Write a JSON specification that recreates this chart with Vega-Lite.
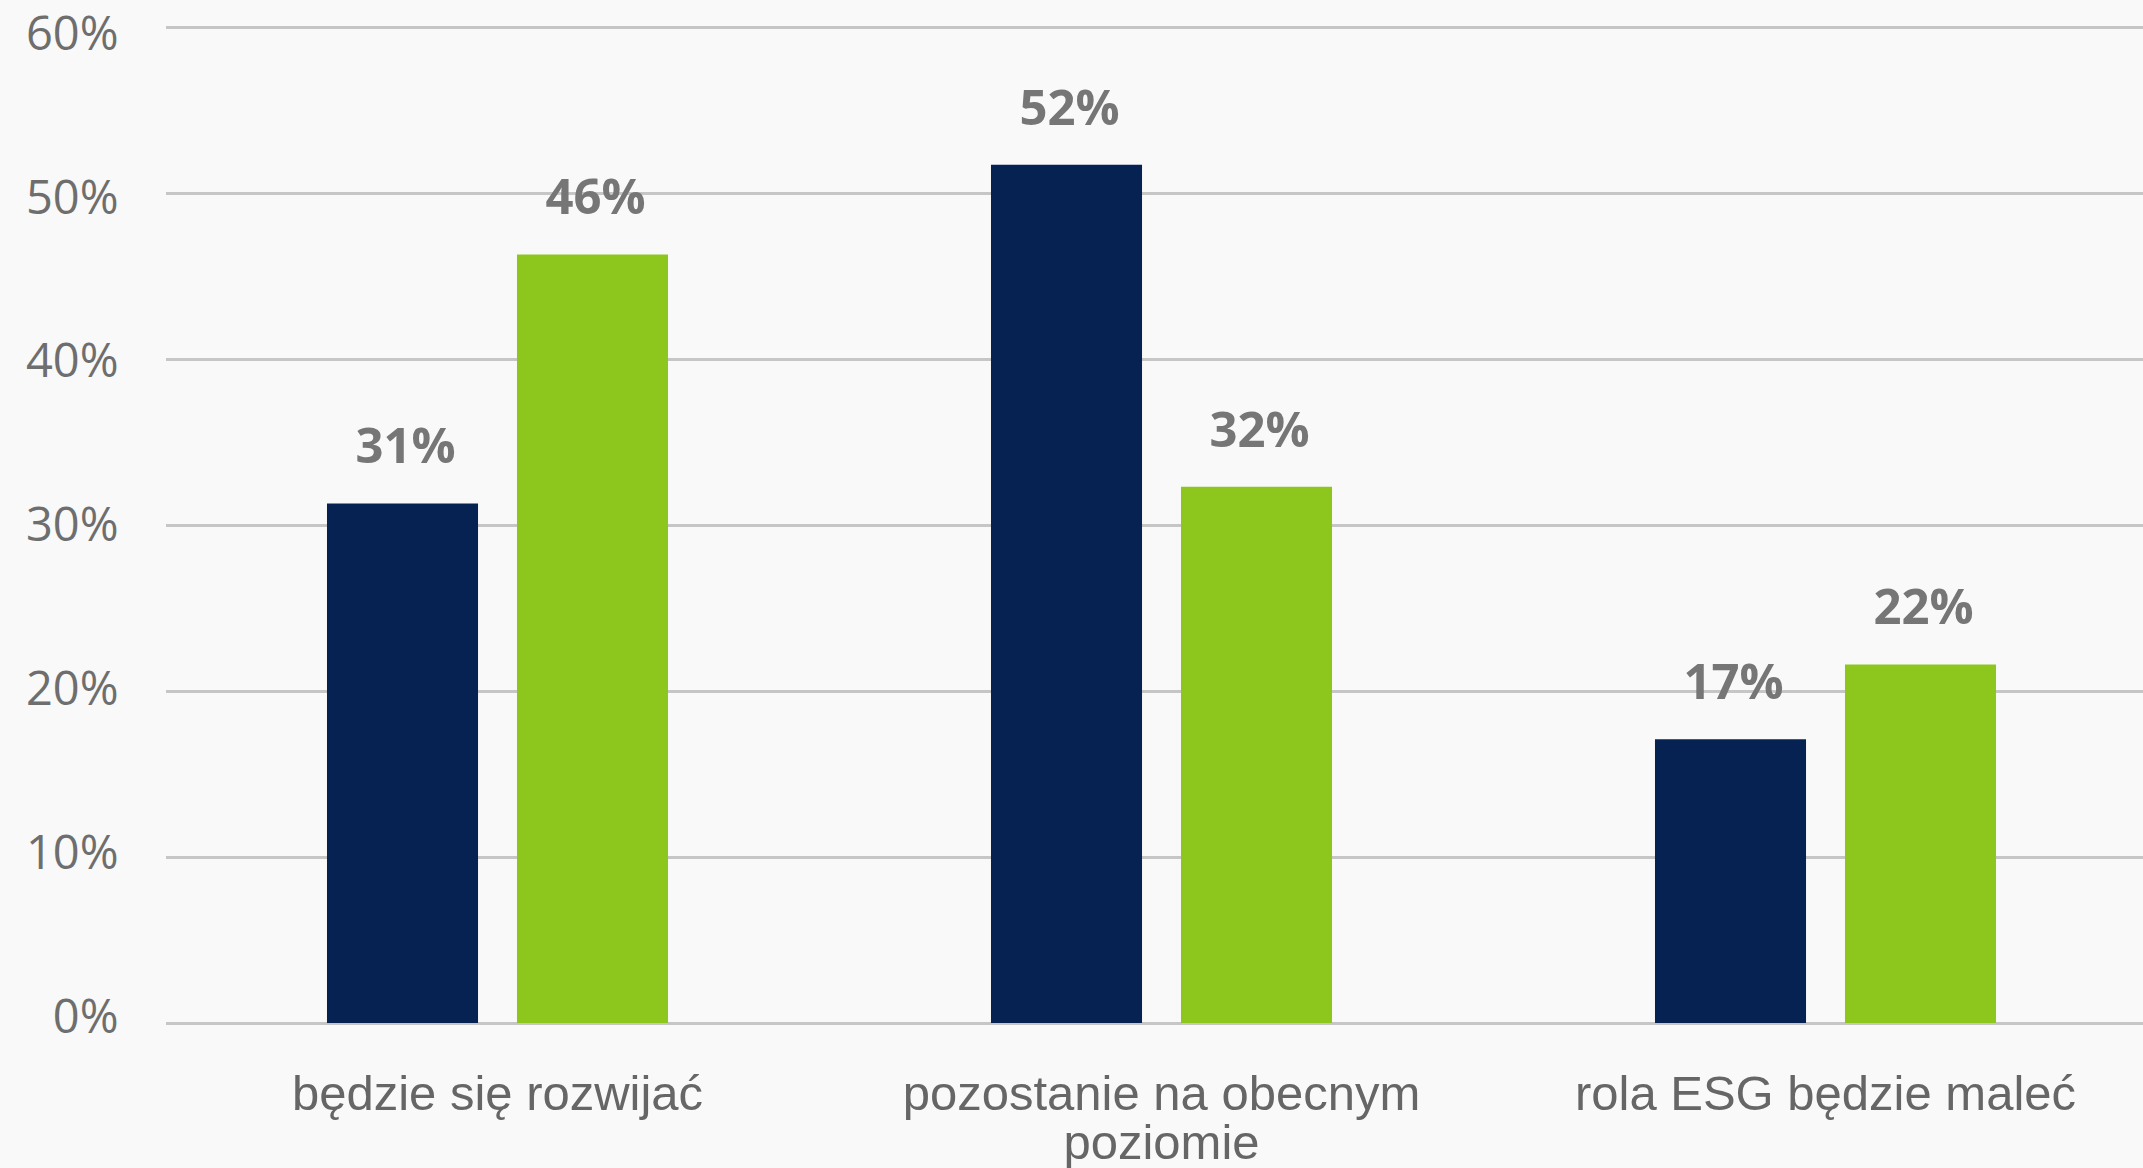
{
  "$schema": "https://vega.github.io/schema/vega-lite/v6.json",
  "autosize": {"type": "none"},
  "width": 1979,
  "height": 996,
  "padding": {"left": 164, "top": 27, "right": 0, "bottom": 145},
  "background": "#f9f9f9",
  "config": {"view": {"stroke": null}},
  "data": {
    "values": [
      {"kategoria": "będzie się rozwijać", "seria": "Seria 1", "wartosc": 0.313},
      {"kategoria": "będzie się rozwijać", "seria": "Seria 2", "wartosc": 0.463},
      {"kategoria": "pozostanie na obecnym poziomie", "seria": "Seria 1", "wartosc": 0.517},
      {"kategoria": "pozostanie na obecnym poziomie", "seria": "Seria 2", "wartosc": 0.323},
      {"kategoria": "rola ESG będzie maleć", "seria": "Seria 1", "wartosc": 0.171},
      {"kategoria": "rola ESG będzie maleć", "seria": "Seria 2", "wartosc": 0.216}
    ]
  },
  "encoding": {
    "x": {
      "field": "kategoria",
      "type": "nominal",
      "sort": null,
      "scale": {"range": [1.5, 1993.5], "paddingInner": 0, "paddingOuter": 0},
      "axis": {
        "title": null,
        "domain": false,
        "ticks": false,
        "tickSize": 0,
        "labelAngle": 0,
        "labelFont": "Liberation Sans",
        "labelFontSize": 49,
        "labelColor": "#666666",
        "labelPadding": 47,
        "labelBaseline": "top",
        "labelLineHeight": 49,
        "labelLimit": 0,
        "labelExpr": "datum.label == 'pozostanie na obecnym poziomie' ? ['pozostanie na obecnym', 'poziomie'] : datum.label"
      }
    },
    "xOffset": {
      "field": "seria",
      "type": "nominal",
      "scale": {"paddingInner": 0.205, "paddingOuter": 0.85}
    },
    "y": {
      "field": "wartosc",
      "type": "quantitative",
      "scale": {"domain": [0, 0.6], "nice": false},
      "axis": {
        "title": null,
        "values": [0, 0.1, 0.2, 0.3, 0.4, 0.5, 0.6],
        "format": ".0%",
        "domain": false,
        "ticks": false,
        "tickSize": 0,
        "grid": true,
        "gridColor": "#c6c6c6",
        "gridWidth": 3,
        "labelFont": "Open Sans",
        "labelFontSize": 47,
        "labelColor": "#6e6e6e",
        "labelPadding": 46,
        "labelOffset": {"expr": "-5 + datum.value * 22"}
      }
    }
  },
  "layer": [
    {
      "mark": {"type": "bar"},
      "encoding": {
        "color": {
          "field": "seria",
          "type": "nominal",
          "scale": {"domain": ["Seria 1", "Seria 2"], "range": ["#062253", "#8dc71e"]},
          "legend": null
        }
      }
    },
    {
      "mark": {
        "type": "text",
        "baseline": "alphabetic",
        "dy": -40,
        "dx": 3,
        "font": "Open Sans",
        "fontWeight": "bold",
        "fontSize": 49,
        "color": "#767676"
      },
      "encoding": {
        "text": {"field": "wartosc", "type": "quantitative", "format": ".0%"}
      }
    }
  ]
}
